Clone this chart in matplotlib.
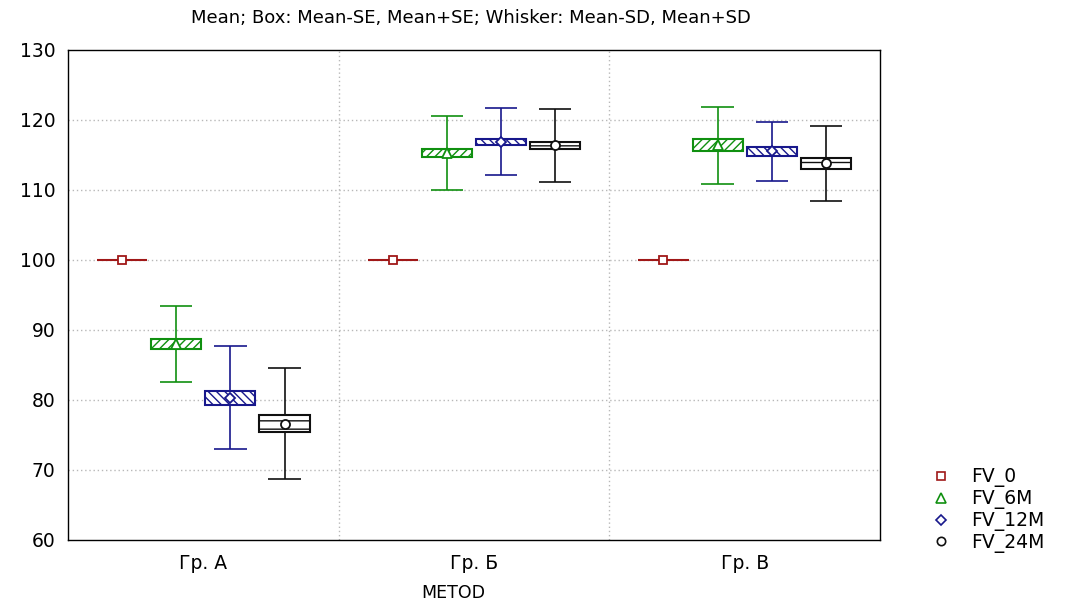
import numpy as np
import matplotlib
matplotlib.use('Agg')
import matplotlib.pyplot as plt
from matplotlib.lines import Line2D

plt.rcParams['font.family'] = ['DejaVu Sans']
plt.rcParams['hatch.linewidth'] = 1.0

# data
groups = ['Гр. А', 'Гр. Б', 'Гр. В']
series = ['FV_0', 'FV_6M', 'FV_12M', 'FV_24M']
mean_fv0 = [100.0, 100.0, 100.0]
se_fv0 = [0.0, 0.0, 0.0]
sd_fv0 = [0.0, 0.0, 0.0]
mean_fv6 = [88.0, 115.3, 116.4]
se_fv6 = [0.75, 0.55, 0.85]
sd_fv6 = [5.4, 5.3, 5.5]
mean_fv12 = [80.3, 116.9, 115.5]
se_fv12 = [1.0, 0.45, 0.6]
sd_fv12 = [7.35, 4.8, 4.2]
mean_fv24 = [76.6, 116.4, 113.8]
se_fv24 = [1.2, 0.5, 0.8]
sd_fv24 = [7.9, 5.2, 5.35]

means = [mean_fv0, mean_fv6, mean_fv12, mean_fv24]
ses = [se_fv0, se_fv6, se_fv12, se_fv24]
sds = [sd_fv0, sd_fv6, sd_fv12, sd_fv24]

colors = ['#a01818', '#109010', '#18188c', '#101010']
markers = ['s', '^', 'D', 'o']
msizes = [6, 7, 5.5, 6.5]
hatches = [None, '////', '\\\\\\\\', '--']
offsets = [-0.3, -0.1, 0.1, 0.3]

fig = plt.figure(figsize=(10.74, 6.03), dpi=100)
ax = fig.add_axes([0.0633, 0.1045, 0.7561, 0.8126])

x = np.arange(len(groups))
box_w = 0.185
cap_w = 0.12
for k in range(len(series)):
    xs = x + offsets[k]
    m = np.array(means[k])
    se = np.array(ses[k])
    sd = np.array(sds[k])
    c = colors[k]
    if sd.max() == 0:
        # no spread: just a flat line across the box width
        ax.hlines(m, xs - box_w / 2, xs + box_w / 2, color=c, lw=1.5, zorder=2)
    else:
        ax.vlines(xs, m - sd, m + sd, color=c, lw=1.2, zorder=2)
        ax.hlines(m - sd, xs - cap_w / 2, xs + cap_w / 2, color=c, lw=1.2, zorder=2)
        ax.hlines(m + sd, xs - cap_w / 2, xs + cap_w / 2, color=c, lw=1.2, zorder=2)
        ax.bar(xs, 2 * se, bottom=m - se, width=box_w, facecolor='white',
               edgecolor=c, hatch=hatches[k], lw=1.5, zorder=3)
    ax.plot(xs, m, linestyle='none', marker=markers[k], ms=msizes[k],
            mfc='white', mec=c, mew=1.3, zorder=4)

ax.set_xlim(-0.5, 2.5)
ax.set_ylim(60, 130)
ax.set_yticks(np.arange(60, 131, 10))
ax.set_xticks(x)
ax.set_xticklabels(groups)
ax.tick_params(length=0, labelsize=13.5, pad=9)
ax.tick_params(axis='x', pad=10)

for yv in range(70, 130, 10):
    ax.axhline(yv, color='#b8b8b8', lw=1, ls=(0, (1, 2)), zorder=1)
for xv in [0.5, 1.5]:
    ax.axvline(xv, color='#b8b8b8', lw=1, ls=(0, (1, 2)), zorder=1)

for s in ax.spines.values():
    s.set_color('black')
    s.set_linewidth(1)

fig.text(0.4218, 0.017, 'METOD', ha='center', va='center', fontsize=12.5)
fig.text(0.4385, 0.97, 'Mean; Box: Mean-SE, Mean+SE; Whisker: Mean-SD, Mean+SD',
         ha='center', va='center', fontsize=13)

handles = [Line2D([], [], linestyle='none', marker=markers[k], ms=msizes[k] - 0.5,
                  mfc='white', mec=colors[k], mew=1.2) for k in range(len(series))]
fig.legend(handles, series, loc='upper left', bbox_to_anchor=(0.843, 0.253),
           frameon=False, fontsize=13.5, handletextpad=0.6, labelspacing=0.1)

fig.savefig('out.png', dpi=100)
